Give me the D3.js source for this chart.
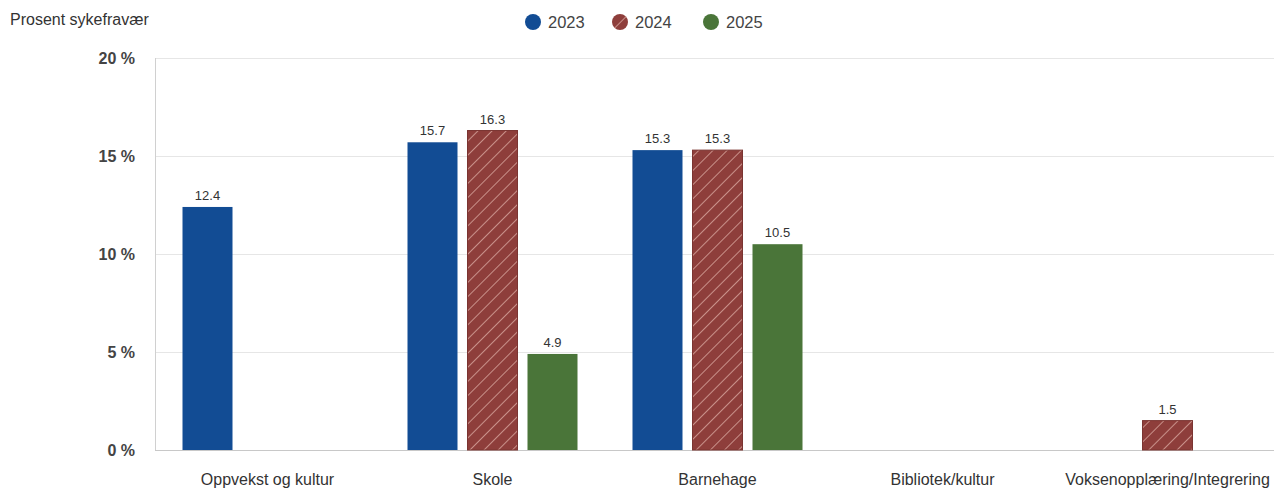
<!DOCTYPE html>
<html><head><meta charset="utf-8">
<script src="https://cdn.jsdelivr.net/npm/d3@7"></script>
<style>body{margin:0;background:#fff;font-family:"Liberation Sans",Arial,sans-serif}</style>
</head><body><svg id="c" width="1274" height="489"></svg>
<script>
const categories = ["Oppvekst og kultur","Skole","Barnehage","Bibliotek/kultur","Voksenopplæring/Integrering"];
const seriesNames = ["2023","2024","2025"];
const v2023 = [12.4, 15.7, 15.3, null, null];
const v2024 = [null, 16.3, 15.3, null, 1.5];
const v2025 = [null, 4.9, 10.5, null, null];
const yTicks = [0,5,10,15,20];
const colors = ["#124c94","#8e3e3b","#4a7539"];

const svg = d3.select("#c");
const m = {l:155, r:0, t:58, b:39};
const W = 1274, H = 489;
const x0 = d3.scaleBand().domain(categories).range([m.l, m.l+5*225]).paddingInner(0).paddingOuter(0);
const y = d3.scaleLinear().domain([0,20]).range([H-m.b, m.t]);
const x1 = d3.scaleBand().domain(seriesNames).range([27.5, 225-27.5]).paddingInner(10/60).paddingOuter(0);

const defs = svg.append("defs");
const pat = defs.append("pattern").attr("id","hatch").attr("patternUnits","userSpaceOnUse")
  .attr("width",10).attr("height",10).attr("patternTransform","rotate(45)");
pat.append("rect").attr("width",10).attr("height",10).attr("fill",colors[1]);
pat.append("line").attr("x1",0).attr("y1",0).attr("x2",0).attr("y2",10).attr("stroke","#f2c9c0").attr("stroke-width",1.2);

// gridlines
svg.append("g").selectAll("line").data(yTicks.filter(d=>d>0)).join("line")
  .attr("x1",m.l).attr("x2",W).attr("y1",d=>y(d)+0.5).attr("y2",d=>y(d)+0.5)
  .attr("stroke","#e6e6e6");
svg.append("line").attr("x1",m.l).attr("x2",W).attr("y1",y(0)+0.5).attr("y2",y(0)+0.5).attr("stroke","#c8c8c8");
svg.append("line").attr("x1",m.l+0.5).attr("x2",m.l+0.5).attr("y1",y(20)).attr("y2",y(0)).attr("stroke","#d0d0d0");

// y tick labels
svg.append("g").selectAll("text").data(yTicks).join("text")
  .attr("x",135).attr("y",d=>y(d)+6).attr("text-anchor","end")
  .attr("font-size",16).attr("font-weight","bold").attr("fill","#444")
  .text(d=>d+" %");

// bars
const series = [v2023, v2024, v2025];
const data = [];
series.forEach((arr,si)=>arr.forEach((v,ci)=>{ if(v!=null) data.push({s:seriesNames[si], si, c:categories[ci], v}); }));
const bars = svg.append("g");
bars.selectAll("rect").data(data).join("rect")
  .attr("x",d=>x0(d.c)+x1(d.s)).attr("width",x1.bandwidth())
  .attr("y",d=>y(d.v)).attr("height",d=>y(0)-y(d.v))
  .attr("fill",d=>d.si===1?"url(#hatch)":colors[d.si])
  .attr("stroke",d=>d.si===1?"#7a3431":"none").attr("stroke-width",1);
bars.selectAll("text").data(data).join("text")
  .attr("x",d=>x0(d.c)+x1(d.s)+x1.bandwidth()/2).attr("y",d=>y(d.v)-7)
  .attr("text-anchor","middle").attr("font-size",13).attr("fill","#333")
  .text(d=>d.v.toFixed(1));

// category labels
svg.append("g").selectAll("text").data(categories).join("text")
  .attr("x",d=>x0(d)+x0.bandwidth()/2).attr("y",y(0)+35)
  .attr("text-anchor","middle").attr("font-size",16).attr("fill","#333").text(d=>d);

// title
svg.append("text").attr("x",10).attr("y",25).attr("font-size",16).attr("fill","#333").text("Prosent sykefravær");

// legend
const lx = [533, 620, 711];
const lg = svg.append("g").selectAll("g").data(seriesNames).join("g")
  .attr("transform",(d,i)=>`translate(${lx[i]},22)`);
lg.append("circle").attr("r",8).attr("fill",(d,i)=>i===1?"url(#hatch)":colors[i]);
lg.append("text").attr("x",15).attr("y",6).attr("font-size",16.5).attr("fill","#444").text(d=>d);
</script></body></html>
